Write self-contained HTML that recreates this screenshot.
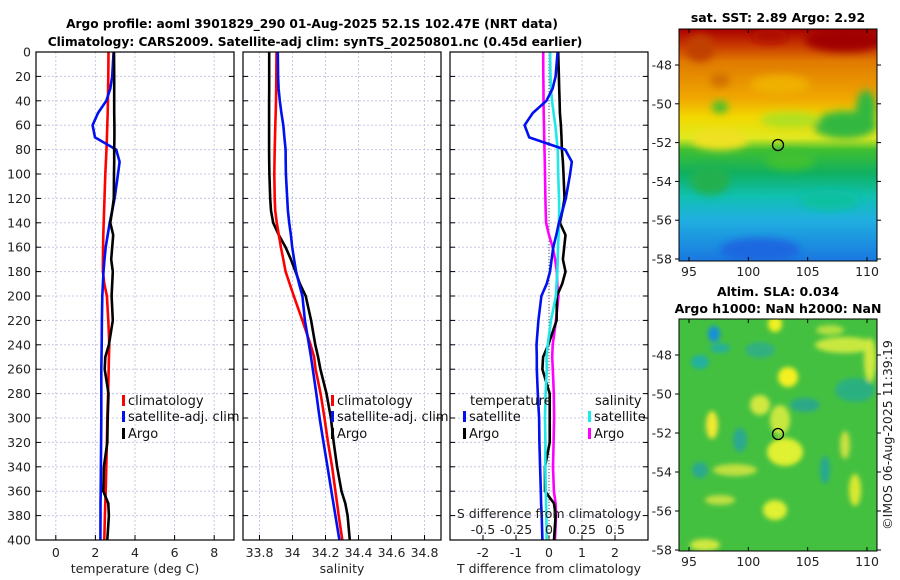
<!DOCTYPE html>
<html><head><meta charset="utf-8">
<style>
html,body{margin:0;padding:0;background:#fff;}
svg{display:block;font-family:"DejaVu Sans","Liberation Sans",sans-serif;}
.t{font-size:12.2px;font-weight:bold;fill:#000;}
.tm{font-size:12.5px;font-weight:bold;fill:#000;}
.tk{font-size:12.5px;fill:#222;}
.lg{font-size:13px;fill:#111;}
</style></head>
<body>
<svg id="fig" width="900" height="580" viewBox="0 0 900 580">
<defs>
<filter id="bl" x="-50%" y="-50%" width="200%" height="200%"><feGaussianBlur stdDeviation="4"/></filter>
<filter id="bl2" x="-50%" y="-50%" width="200%" height="200%"><feGaussianBlur stdDeviation="2.5"/></filter>
<clipPath id="c1"><rect x="679" y="29" width="198" height="232"/></clipPath>
<clipPath id="c2"><rect x="679" y="319" width="198" height="232"/></clipPath>
<linearGradient id="sstg" x1="0" y1="0" x2="0" y2="1">
<stop offset="0" stop-color="#a80000"/><stop offset="0.07" stop-color="#c83800"/>
<stop offset="0.14" stop-color="#e07a00"/><stop offset="0.3" stop-color="#f0a800"/>
<stop offset="0.38" stop-color="#f2d800"/><stop offset="0.47" stop-color="#e0e820"/>
<stop offset="0.52" stop-color="#40c030"/><stop offset="0.62" stop-color="#10b060"/>
<stop offset="0.72" stop-color="#10c0b0"/><stop offset="0.82" stop-color="#20b0e0"/>
<stop offset="1" stop-color="#1a78e0"/></linearGradient>
</defs>
<text class="t" x="312" y="28" text-anchor="middle">Argo profile: aoml 3901829_290 01-Aug-2025 52.1S 102.47E (NRT data)</text>
<text class="t" x="315" y="46" text-anchor="middle">Climatology: CARS2009. Satellite-adj clim: synTS_20250801.nc (0.45d earlier)</text>

<g id="maps">
<g clip-path="url(#c1)">
<rect x="679" y="29" width="198" height="232" fill="url(#sstg)"/>
<g filter="url(#bl)">
<ellipse cx="845" cy="40" rx="40" ry="12" fill="#a00000"/>
<ellipse cx="770" cy="36" rx="18" ry="7" fill="#b01000"/>
<ellipse cx="700" cy="48" rx="14" ry="14" fill="#c04000"/>
<ellipse cx="780" cy="85" rx="30" ry="10" fill="#f0b000"/>
<ellipse cx="720" cy="80" rx="10" ry="7" fill="#d07000"/>
<ellipse cx="720" cy="107" rx="8" ry="6" fill="#40c030"/>
<ellipse cx="845" cy="125" rx="32" ry="14" fill="#30b840"/>
<ellipse cx="866" cy="110" rx="10" ry="20" fill="#30b840"/>
<ellipse cx="720" cy="140" rx="28" ry="10" fill="#f0e020"/>
<ellipse cx="790" cy="160" rx="25" ry="10" fill="#40c030"/>
<ellipse cx="710" cy="180" rx="20" ry="15" fill="#20b050"/>
<ellipse cx="830" cy="200" rx="30" ry="10" fill="#10c0a0"/>
<ellipse cx="760" cy="250" rx="40" ry="12" fill="#1a68e0"/>
<ellipse cx="790" cy="120" rx="30" ry="8" fill="#b0e020"/>
</g></g>
<rect x="679" y="29" width="198" height="232" fill="none" stroke="#000"/>
<circle cx="778" cy="145" r="5.5" fill="none" stroke="#000" stroke-width="1.3"/>
<g clip-path="url(#c2)">
<rect x="679" y="319" width="198" height="232" fill="#44c040"/>
<g filter="url(#bl2)">
<ellipse cx="775" cy="324" rx="7" ry="8" fill="#f0f020"/>
<ellipse cx="845" cy="345" rx="30" ry="8" fill="#c8e840"/>
<ellipse cx="830" cy="330" rx="14" ry="5" fill="#b0e040"/>
<ellipse cx="788" cy="377" rx="10" ry="10" fill="#f4f020"/>
<ellipse cx="714" cy="334" rx="6" ry="8" fill="#1890d8"/>
<ellipse cx="700" cy="362" rx="9" ry="7" fill="#20b0a0"/>
<ellipse cx="720" cy="348" rx="10" ry="5" fill="#28b098"/>
<ellipse cx="712" cy="425" rx="6" ry="14" fill="#f0e830"/>
<ellipse cx="760" cy="405" rx="10" ry="10" fill="#d0e840"/>
<ellipse cx="785" cy="452" rx="18" ry="14" fill="#e0f030"/>
<ellipse cx="780" cy="420" rx="10" ry="15" fill="#c8e840"/>
<ellipse cx="805" cy="405" rx="15" ry="7" fill="#2aa888"/>
<ellipse cx="825" cy="470" rx="5" ry="14" fill="#28a890"/>
<ellipse cx="735" cy="470" rx="22" ry="6" fill="#c0e040"/>
<ellipse cx="855" cy="490" rx="6" ry="16" fill="#d8e830"/>
<ellipse cx="845" cy="445" rx="5" ry="14" fill="#c8e040"/>
<ellipse cx="775" cy="510" rx="12" ry="10" fill="#e0f030"/>
<ellipse cx="720" cy="500" rx="15" ry="5" fill="#c0e040"/>
<ellipse cx="705" cy="545" rx="15" ry="6" fill="#d0e840"/>
<ellipse cx="855" cy="390" rx="20" ry="12" fill="#2ab080"/>
<ellipse cx="760" cy="350" rx="15" ry="8" fill="#30b080"/>
<ellipse cx="740" cy="440" rx="7" ry="12" fill="#2aa890"/>
<ellipse cx="870" cy="360" rx="6" ry="22" fill="#d0e840"/>
<ellipse cx="700" cy="470" rx="8" ry="8" fill="#2aa890"/>
</g></g>
<rect x="679" y="319" width="198" height="232" fill="none" stroke="#000"/>
<circle cx="778" cy="434" r="5.5" fill="none" stroke="#000" stroke-width="1.3"/>
<text class="tm" x="778" y="22" text-anchor="middle">sat. SST: 2.89 Argo: 2.92</text>
<text class="tm" x="778" y="296" text-anchor="middle">Altim. SLA: 0.034</text>
<text class="tm" x="778" y="313" text-anchor="middle">Argo h1000: NaN h2000: NaN</text>
<text class="tk" transform="translate(892,435) rotate(-90)" text-anchor="middle">©IMOS 06-Aug-2025 11:39:19</text>
</g>
<g id="plots"></g>
</svg>
<script>
const depths=[0,20,30,40,50,60,70,80,90,100,120,130,140,150,160,170,180,190,200,220,240,250,260,280,300,320,340,360,370,380,400];
const tempArgo=[2.94,2.95,2.95,2.95,2.95,2.96,2.96,2.95,2.95,2.94,2.93,2.85,2.75,2.9,2.85,2.8,2.88,2.85,2.82,2.88,2.68,2.5,2.47,2.66,2.62,2.6,2.43,2.4,2.65,2.68,2.6];
const tempClim=[2.66,2.65,2.64,2.63,2.62,2.6,2.58,2.56,2.53,2.5,2.46,2.44,2.42,2.4,2.39,2.38,2.38,2.45,2.58,2.65,2.7,2.68,2.67,2.64,2.6,2.58,2.55,2.52,2.5,2.48,2.45];
const tempSat=[2.92,2.85,2.75,2.55,2.13,1.86,1.98,3.05,3.22,3.14,2.97,2.85,2.72,2.62,2.52,2.46,2.41,2.38,2.35,2.33,2.32,2.31,2.3,2.3,2.3,2.29,2.28,2.27,2.26,2.26,2.25];
const salArgo=[33.859,33.859,33.859,33.858,33.858,33.858,33.858,33.858,33.859,33.86,33.865,33.87,33.883,33.917,33.958,33.99,34.018,34.045,34.08,34.113,34.138,34.155,34.169,34.206,34.233,34.25,34.27,34.297,34.32,34.334,34.347];
const salClim=[33.903,33.902,33.901,33.9,33.898,33.896,33.894,33.892,33.891,33.89,33.892,33.895,33.905,33.917,33.93,33.944,33.958,33.983,34.008,34.06,34.11,34.131,34.14,34.17,34.194,34.215,34.24,34.26,34.27,34.28,34.302];
const salSat=[33.911,33.913,33.916,33.923,33.933,33.944,33.951,33.958,33.959,33.96,33.968,33.972,33.98,33.99,33.998,34.01,34.022,34.04,34.06,34.075,34.1,34.112,34.123,34.144,34.164,34.188,34.212,34.236,34.248,34.26,34.284];
const depthTicks=[0,20,40,60,80,100,120,140,160,180,200,220,240,260,280,300,320,340,360,380,400];
const tempTicks=[0,2,4,6,8];
const salTicks=[33.8,34,34.2,34.4,34.6,34.8];
const dTTicks=[-2,-1,0,1,2];
const dSTickLabels=["-0.5","-0.25","0","0.25","0.5"];
const dSTicks=[-0.5,-0.25,0,0.25,0.5];
const lonTicks=[95,100,105,110];
const latTicks=[-48,-50,-52,-54,-56,-58];

const NS="http://www.w3.org/2000/svg";
const G=document.getElementById('plots');
const Y0=52,Y1=540;
const yD=d=>Y0+(d/400)*(Y1-Y0);
function lin(d0,d1,r0,r1){return v=>r0+(v-d0)/(d1-d0)*(r1-r0);}
function mk(tag,attrs,parent){const e=document.createElementNS(NS,tag);for(const k in attrs)e.setAttribute(k,attrs[k]);(parent||G).appendChild(e);return e;}
function txt(s,x,y,cls,anchor){const e=mk('text',{x:x,y:y,class:cls,'text-anchor':anchor||'middle'});e.textContent=s;return e;}

const panels=[
 {x0:36,x1:234,dom:[-1,9],ticks:tempTicks,lab:"temperature (deg C)",name:"temperature-panel"},
 {x0:243,x1:441,dom:[33.7,34.9],ticks:salTicks,lab:"salinity",name:"salinity-panel"},
 {x0:450,x1:648,dom:[-3,3],ticks:dTTicks,lab:"T difference from climatology",name:"difference-panel"}
];
panels.forEach((p,i)=>{
 const g=mk('g',{});
 
 
 p.sx=lin(p.dom[0],p.dom[1],p.x0,p.x1);
 depthTicks.forEach(d=>{const l=mk('line',{x1:p.x0,x2:p.x1,y1:yD(d),y2:yD(d),stroke:'#c4c8e6','stroke-dasharray':'2,2','stroke-width':1},g);
  
  mk('line',{x1:p.x0,x2:p.x0+5,y1:yD(d),y2:yD(d),stroke:'#000'},g);
  mk('line',{x1:p.x1-5,x2:p.x1,y1:yD(d),y2:yD(d),stroke:'#000'},g);
  if(i===0){const t=txt(String(d),31,yD(d)+4.5,'tk','end');g.appendChild(t);
   }
 });
 p.ticks.forEach(v=>{const x=p.sx(v);
  mk('line',{x1:x,x2:x,y1:Y0,y2:Y1,stroke:'#c4c8e6','stroke-dasharray':'2,2','stroke-width':1},g);
  mk('line',{x1:x,x2:x,y1:Y1,y2:Y1-5,stroke:'#000'},g);
  const t=txt(String(v),x,557,'tk');g.appendChild(t);
  
 });
 const at=txt(p.lab,(p.x0+p.x1)/2,573,'tk');g.appendChild(at);
 
});
function line(xs,sx,color,name,w){
 const pts=depths.map((d,k)=>sx(xs[k]).toFixed(1)+','+yD(d).toFixed(1)).join(' ');
 const e=mk('polyline',{points:pts,fill:'none',stroke:color,'stroke-width':w||2.6,'stroke-linejoin':'round'});
 
 
}
const P1=panels[0],P2=panels[1],P3=panels[2];
line(tempClim,P1.sx,'#f00','temp-climatology-line');
line(tempSat,P1.sx,'#0010ee','temp-satellite-line');
line(tempArgo,P1.sx,'#000','temp-argo-line');
line(salArgo,P2.sx,'#000','sal-argo-line');
line(salClim,P2.sx,'#f00','sal-climatology-line');
line(salSat,P2.sx,'#0010ee','sal-satellite-line');
const sS=lin(-0.75,0.75,P3.x0,P3.x1);
mk('line',{x1:P3.sx(0),x2:P3.sx(0),y1:Y0,y2:Y1,stroke:'#555','stroke-dasharray':'1,2'});
const dTsat=tempSat.map((v,k)=>v-tempClim[k]);
const dTargo=tempArgo.map((v,k)=>v-tempClim[k]);
const dSsat=salSat.map((v,k)=>v-salClim[k]);
const dSargo=salArgo.map((v,k)=>v-salClim[k]);
line(dSargo,sS,'#f0f','sdiff-argo-line');
line(dTargo,P3.sx,'#000','tdiff-argo-line');
line(dSsat,sS,'#20e8e8','sdiff-satellite-line');
line(dTsat,P3.sx,'#0010ee','tdiff-satellite-line');
const st=txt("S difference from climatology",549,518,'tk');

dSTicks.forEach((v,k)=>{const t=txt(dSTickLabels[k],sS(v),534,'tk');
 });
panels.forEach(p=>{const r=mk('rect',{x:p.x0,y:Y0,width:p.x1-p.x0,height:Y1-Y0,fill:'none',stroke:'#000','stroke-width':1.2});
 });
function leg(x,y,color,label){
 const r=mk('rect',{x:x,y:y-10,width:3,height:11,fill:color});
 
 const t=txt(label,x+6,y,'lg','start');
 
}
leg(122,405,'#f00','climatology');leg(122,421,'#0010ee','satellite-adj. clim');leg(122,438,'#000','Argo');
leg(331,405,'#f00','climatology');leg(331,421,'#0010ee','satellite-adj. clim');leg(331,438,'#000','Argo');
const lt=txt('temperature',470,405,'lg','start');
const ls=txt('salinity',595,405,'lg','start');
leg(463,421,'#0010ee','satellite');leg(463,438,'#000','Argo');
leg(588,421,'#20e8e8','satellite');leg(588,438,'#f0f','Argo');
const M=document.getElementById('maps');
const lonX=lin(95,110,689,867);
const lat1=lin(-48,-58,65,259), lat2=lin(-48,-58,355,550);
[[lat1,29,261,276],[lat2,319,551,566]].forEach(([ly,top,bot,ty])=>{
 lonTicks.forEach(v=>{const x=lonX(v);
  mk('line',{x1:x,x2:x,y1:bot,y2:bot-4,stroke:'#000'},M);
  mk('line',{x1:x,x2:x,y1:top,y2:top+4,stroke:'#000'},M);
  const t=txt(String(v),x,ty,'tk');M.appendChild(t);
  });
 latTicks.forEach(v=>{const y=ly(v);
  mk('line',{x1:679,x2:675,y1:y,y2:y,stroke:'#000'},M);
  mk('line',{x1:877,x2:881,y1:y,y2:y,stroke:'#000'},M);
  const t=txt(String(v),672,y+4.5,'tk','end');M.appendChild(t);
  });
});
</script>
</body></html>
